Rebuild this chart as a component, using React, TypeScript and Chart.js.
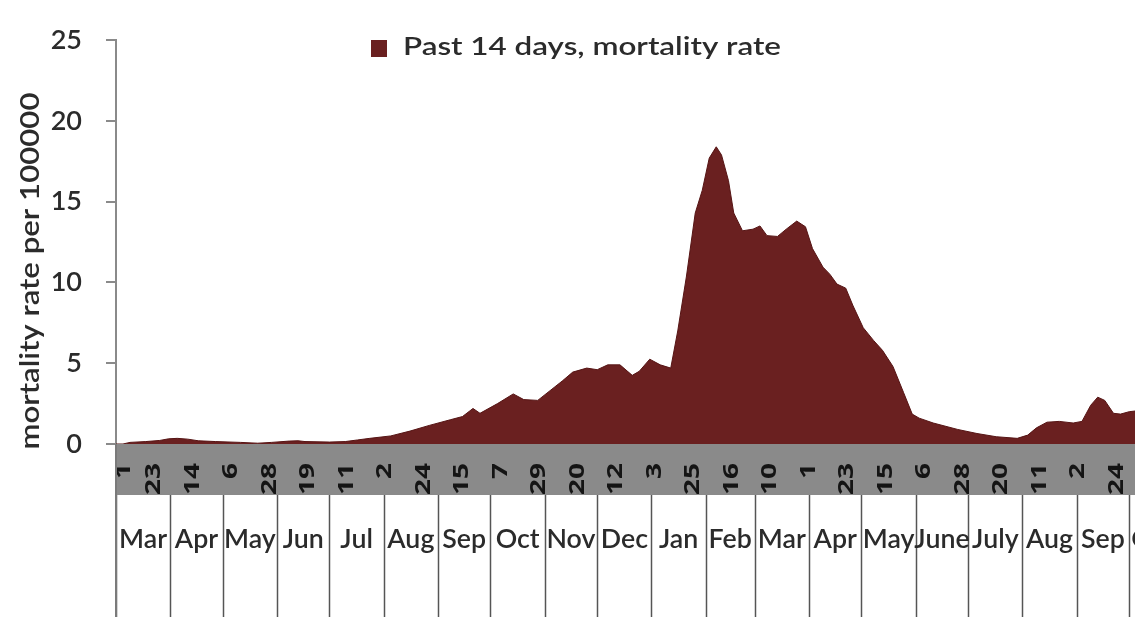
import React, { useEffect, useRef } from "react";
import { Chart, registerables } from "chart.js";

Chart.register(...registerables);

// Days since 1 March 2020
const dayOffsets = [0, 4, 8, 17, 25, 30, 35, 41, 47, 57, 71, 81, 89, 99, 104, 108, 122, 131, 138, 145, 157, 168, 179, 191, 198, 204, 208, 218, 227, 233, 241, 248, 255, 261, 269, 275, 281, 288, 295, 299, 305, 311, 317, 321, 326, 331, 335, 339, 343, 346, 350, 353, 358, 364, 368, 372, 378, 383, 389, 394, 398, 404, 408, 412, 417, 421, 427, 433, 438, 444, 450, 455, 459, 467, 481, 492, 503, 515, 521, 526, 532, 539, 547, 552, 557, 561, 565, 570, 574, 579, 583];
const mortalityRate = [0, 0, 0.1, 0.15, 0.22, 0.32, 0.35, 0.3, 0.2, 0.15, 0.1, 0.05, 0.1, 0.18, 0.2, 0.15, 0.12, 0.15, 0.25, 0.35, 0.5, 0.8, 1.15, 1.5, 1.7, 2.2, 1.9, 2.5, 3.1, 2.75, 2.7, 3.3, 3.9, 4.45, 4.7, 4.6, 4.9, 4.9, 4.25, 4.5, 5.25, 4.9, 4.7, 7.0, 10.4, 14.3, 15.7, 17.7, 18.4, 17.9, 16.3, 14.3, 13.2, 13.3, 13.5, 12.9, 12.85, 13.3, 13.8, 13.45, 12.1, 10.95, 10.5, 9.9, 9.65, 8.6, 7.2, 6.4, 5.8, 4.8, 3.2, 1.85, 1.6, 1.3, 0.9, 0.65, 0.45, 0.35, 0.55, 1.0, 1.35, 1.4, 1.3, 1.4, 2.4, 2.9, 2.7, 1.9, 1.85, 2.0, 2.05];

const dayTickPositions = [0, 22, 44, 66, 88, 110, 132, 154, 176, 198, 220, 242, 264, 286, 308, 330, 352, 374, 396, 418, 440, 462, 484, 506, 528, 550, 572];
const dayTickLabels = ["1", "23", "14", "6", "28", "19", "11", "2", "24", "15", "7", "29", "20", "12", "3", "25", "16", "10", "1", "23", "15", "6", "28", "20", "11", "2", "24"];

const monthStarts = [0, 31, 61, 92, 122, 153, 184, 214, 245, 275, 306, 337, 365, 396, 426, 457, 487, 518, 549, 579, 610];
const monthLabels = ["Mar", "Apr", "May", "Jun", "Jul", "Aug", "Sep", "Oct", "Nov", "Dec", "Jan", "Feb", "Mar", "Apr", "May", "June", "July", "Aug", "Sep", "Oct"];

const seriesLabel = "Past 14 days, mortality rate";
const yAxisTitle = "mortality rate per 100000";
const xMaxDay = 582.3;

const FILL = "#6a2020";
const FONT = 'Lato, "Open Sans", sans-serif';
const DAYFONT = '"Open Sans", Lato, sans-serif';
const TEXT = "#2b2b2b";

const decorations = {
  id: "decorations",
  afterDraw(chart: any) {
    const { ctx, chartArea, scales } = chart;
    const xs = scales.x;
    const bandTop = chartArea.bottom;
    const bandBottom = bandTop + 51;
    const H = chart.height;
    ctx.save();

    // gray band with day labels
    ctx.fillStyle = "#8a8a8a";
    ctx.fillRect(chartArea.left, bandTop, chartArea.right - chartArea.left, bandBottom - bandTop);

    ctx.fillStyle = "#141414";
    ctx.font = `bold 21px ${DAYFONT}`;
    const daySx = 32 / ctx.measureText("28").width;
    dayTickPositions.forEach((d, i) => {
      let px = xs.getPixelForValue(d);
      if (px > chart.width + 10) return;
      px = Math.max(px, chartArea.left + 8);
      ctx.save();
      ctx.translate(px, bandTop + 19);
      ctx.rotate(-Math.PI / 2);
      ctx.scale(daySx, 1);
      ctx.textAlign = "right";
      ctx.textBaseline = "middle";
      ctx.fillText(dayTickLabels[i], 0, 0);
      ctx.restore();
    });

    // month cells
    ctx.strokeStyle = "#555555";
    ctx.lineWidth = 1.5;
    monthStarts.forEach((d) => {
      const px = Math.round(xs.getPixelForValue(d)) + 0.5;
      if (px > chart.width + 1) return;
      ctx.beginPath();
      ctx.moveTo(px, bandBottom);
      ctx.lineTo(px, H);
      ctx.stroke();
    });

    ctx.fillStyle = TEXT;
    ctx.font = `600 27px ${FONT}`;
    const monSx = 48 / ctx.measureText("Mar").width;
    ctx.textBaseline = "alphabetic";
    monthLabels.forEach((m, i) => {
      const a = xs.getPixelForValue(monthStarts[i]);
      const b = xs.getPixelForValue(monthStarts[i + 1]);
      if (a > chart.width) return;
      ctx.save();
      if (b > chartArea.right + 2) {
        ctx.translate(a + 2, bandBottom + 53);
        ctx.scale(monSx, 1);
        ctx.textAlign = "left";
      } else {
        ctx.translate((a + b) / 2, bandBottom + 53);
        ctx.scale(monSx, 1);
        ctx.textAlign = "center";
      }
      ctx.fillText(m, 0, 0);
      ctx.restore();
    });

    // left axis line continuing through the band and cells
    ctx.strokeStyle = "#7a7a7a";
    ctx.lineWidth = 2;
    ctx.beginPath();
    ctx.moveTo(chartArea.left, bandTop);
    ctx.lineTo(chartArea.left, H);
    ctx.stroke();

    // y axis title
    ctx.fillStyle = TEXT;
    ctx.font = `600 27px ${FONT}`;
    const tw = ctx.measureText(yAxisTitle).width;
    ctx.save();
    ctx.translate(30, 271);
    ctx.rotate(-Math.PI / 2);
    ctx.scale(357 / tw, 1);
    ctx.textAlign = "center";
    ctx.textBaseline = "middle";
    ctx.fillText(yAxisTitle, 0, 0);
    ctx.restore();

    // legend
    ctx.fillStyle = FILL;
    ctx.fillRect(371, 40, 16, 17);
    ctx.fillStyle = TEXT;
    ctx.font = `600 25px ${FONT}`;
    const lw = ctx.measureText(seriesLabel).width;
    ctx.save();
    ctx.translate(403, 55);
    ctx.scale(378 / lw, 1);
    ctx.textAlign = "left";
    ctx.textBaseline = "alphabetic";
    ctx.fillText(seriesLabel, 0, 0);
    ctx.restore();

    ctx.restore();
  },
};

export default function App() {
  const ref = useRef<HTMLCanvasElement | null>(null);
  useEffect(() => {
    if (!ref.current) return;
    const points = dayOffsets.map((d, i) => ({ x: d, y: mortalityRate[i] }));
    const chart = new Chart(ref.current, {
      type: "line",
      data: {
        datasets: [
          {
            label: seriesLabel,
            data: points,
            fill: "origin",
            backgroundColor: FILL,
            borderColor: "#561515",
            borderWidth: 1,
            pointRadius: 0,
            tension: 0,
          },
        ],
      },
      options: {
        responsive: false,
        animation: false,
        devicePixelRatio: 1,
        layout: { padding: { top: 24, left: 0, right: 0, bottom: 0 } },
        plugins: { legend: { display: false }, tooltip: { enabled: false } },
        scales: {
          x: {
            type: "linear",
            min: 0,
            max: xMaxDay,
            grid: { display: false },
            border: { display: false },
            ticks: { display: false },
            afterFit: (s: any) => {
              s.height = 173;
            },
          },
          y: {
            min: 0,
            max: 25,
            ticks: {
              stepSize: 5,
              padding: 24,
              color: TEXT,
              font: { family: FONT, size: 27, weight: "600" },
            },
            grid: {
              drawOnChartArea: false,
              drawTicks: true,
              tickLength: 10,
              color: "#8a8a8a",
              lineWidth: 2,
            },
            border: { display: true, color: "#8a8a8a", width: 2 },
            afterFit: (s: any) => {
              s.width = 116;
            },
          },
        },
      },
      plugins: [decorations],
    });
    return () => chart.destroy();
  }, []);
  return (
    <div style={{ position: "fixed", left: 0, top: 0, width: 1135, height: 617, overflow: "hidden", background: "#ffffff" }}>
      <canvas ref={ref} width={1135} height={617} style={{ display: "block" }} />
    </div>
  );
}
